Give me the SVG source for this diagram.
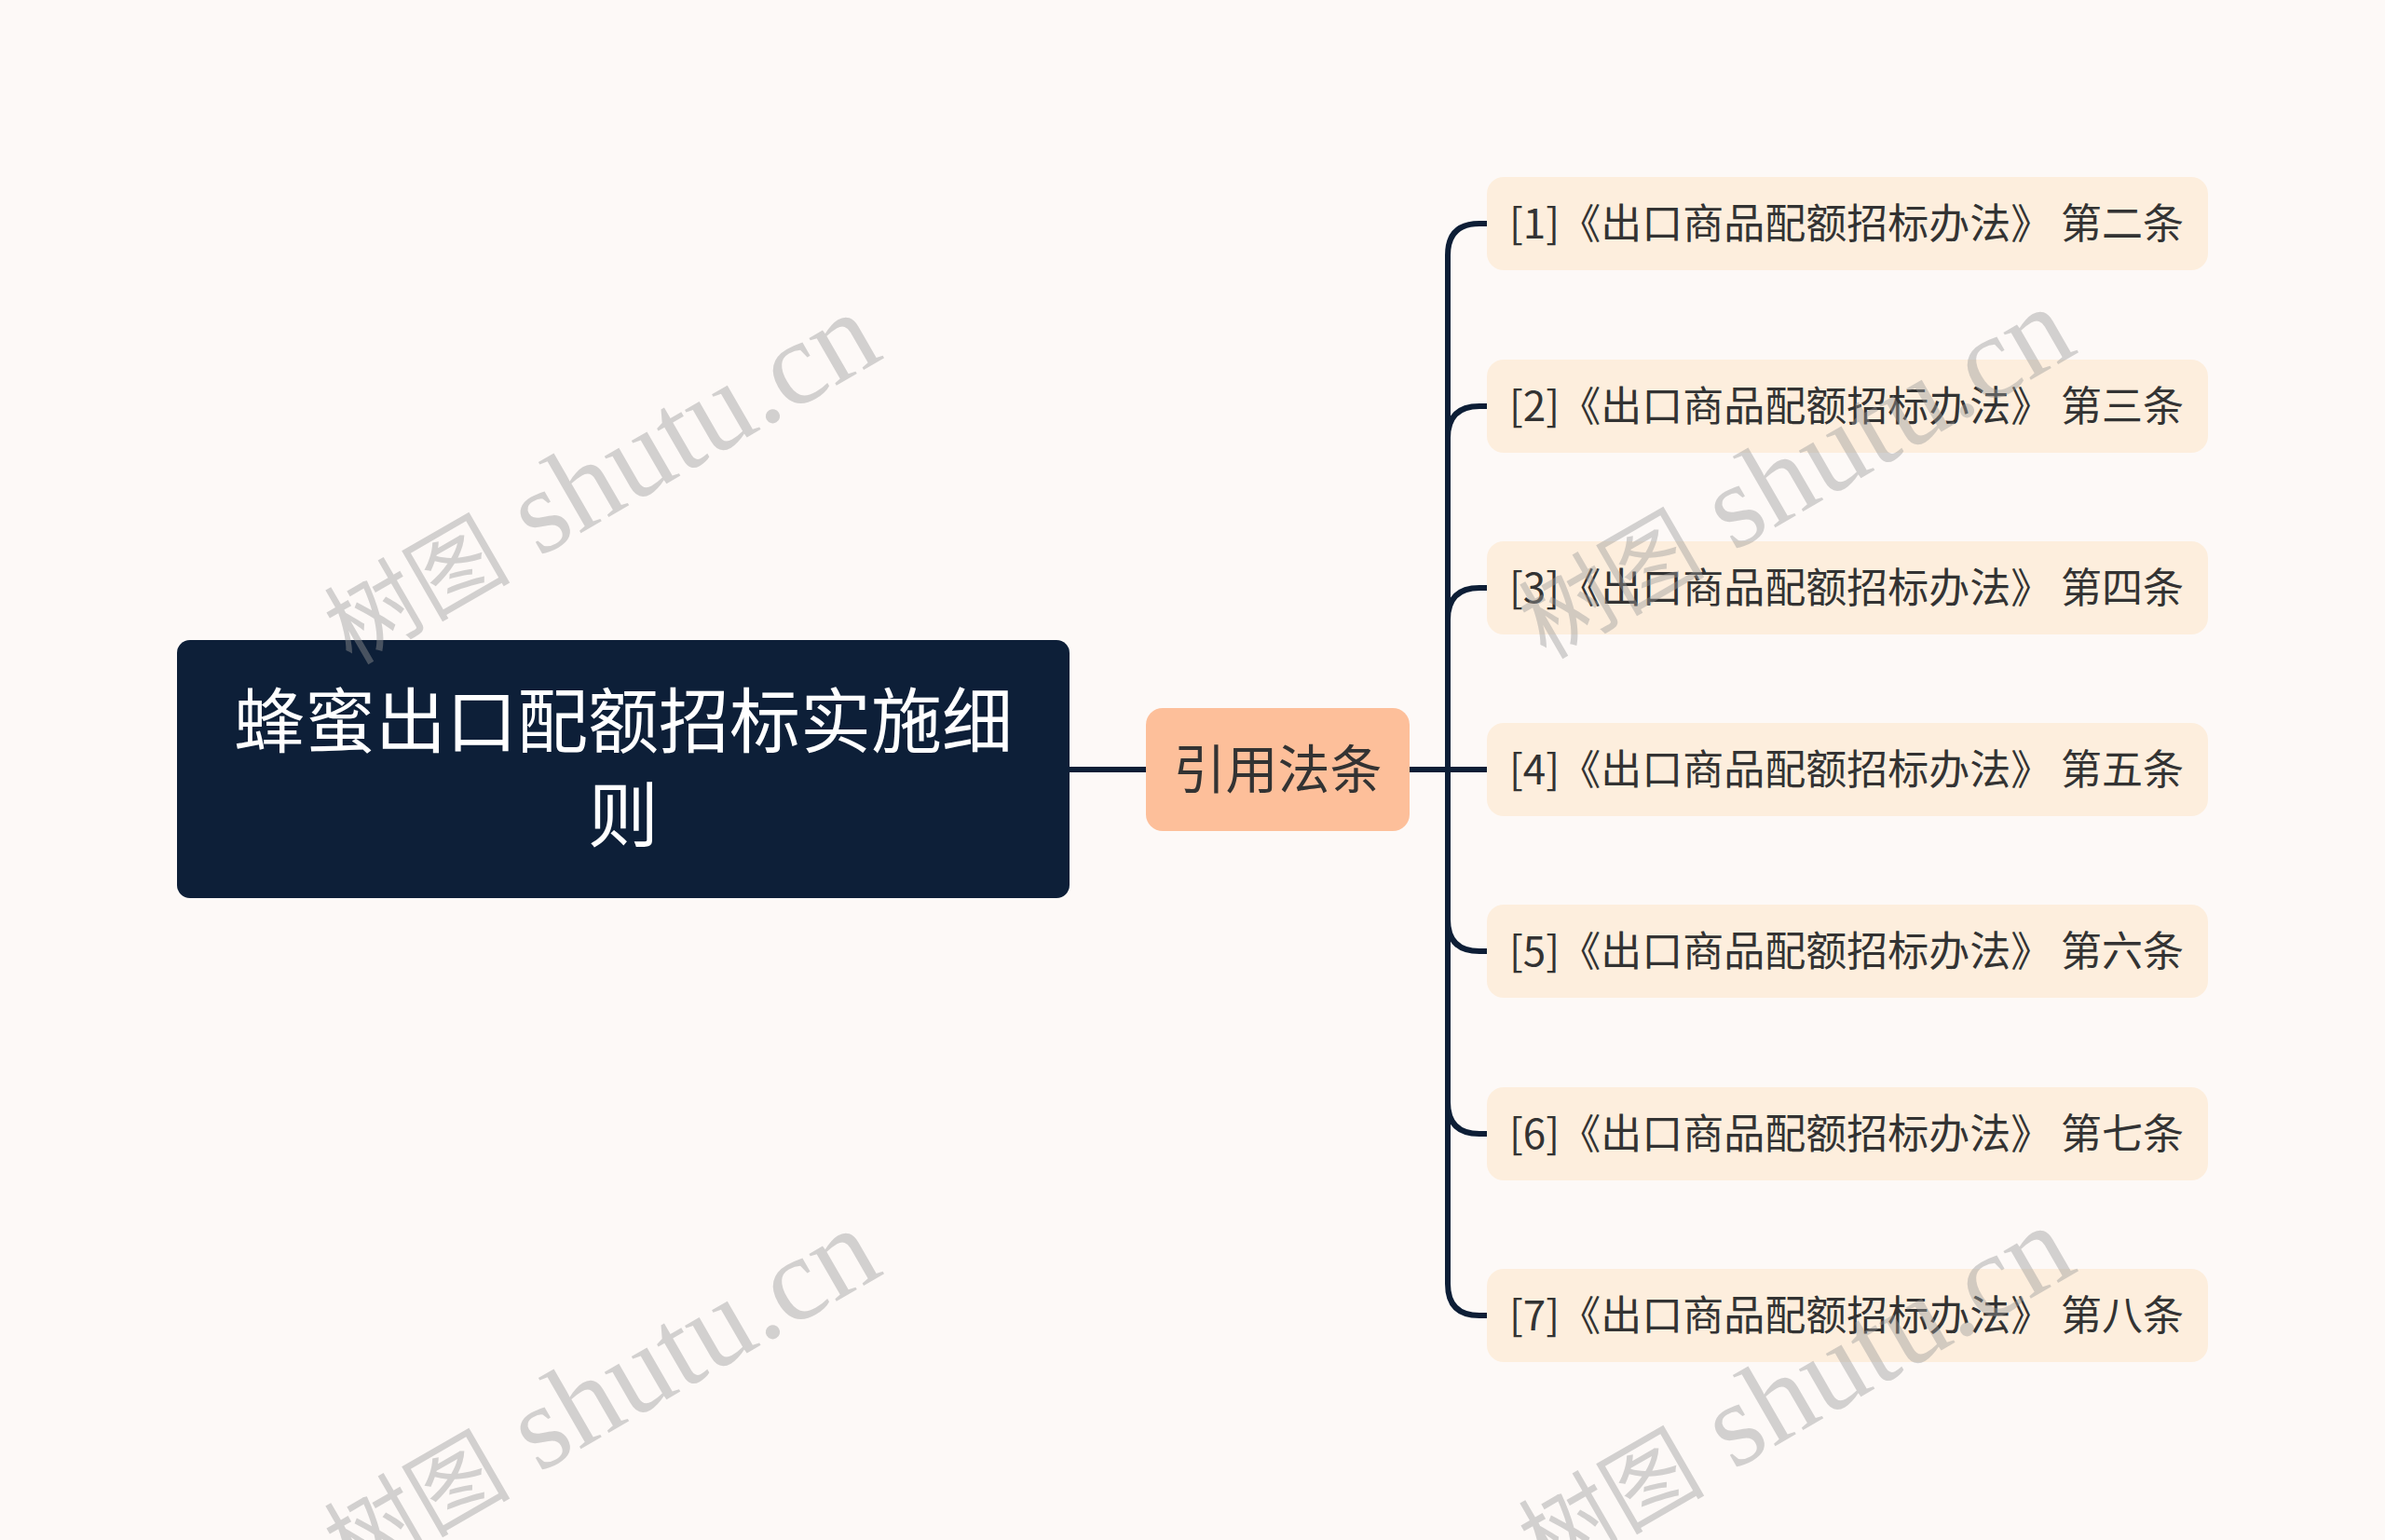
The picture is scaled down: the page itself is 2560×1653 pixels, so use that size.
<svg xmlns="http://www.w3.org/2000/svg" width="2560" height="1653" viewBox="0 0 2560 1653">
<style>
.cjk{font-family:"Noto Sans CJK SC","Noto Sans",sans-serif}
.root-t{fill:#ffffff;font-size:76px}
.mid-t{fill:#333333;font-size:56px}
.leaf-t{fill:#333333;font-size:44px}
.leaf{fill:#FDEEDD}
.conn{fill:none;stroke:#0D1E36;stroke-width:6;stroke-linecap:round}
.wm{font-family:"Liberation Serif","Noto Sans CJK SC",serif;font-size:128px;fill:#999999;opacity:0.42}
.wmc{font-size:100px}
</style>
<rect width="2560" height="1653" fill="#FDF9F7"/>
<g id="connectors">
<path class="conn" d="M1148,826 H1230"/>
<path class="conn" d="M1513,826 H1596"/>
<path class="conn" d="M1554,826 V274 Q1554,240 1588,240 H1596"/>
<path class="conn" d="M1554,826 V470 Q1554,436 1588,436 H1596"/>
<path class="conn" d="M1554,826 V665 Q1554,631 1588,631 H1596"/>
<path class="conn" d="M1554,826 V987 Q1554,1021 1588,1021 H1596"/>
<path class="conn" d="M1554,826 V1183 Q1554,1217 1588,1217 H1596"/>
<path class="conn" d="M1554,826 V1378 Q1554,1412 1588,1412 H1596"/>
</g>
<g id="root">
<rect x="190" y="687" width="958" height="277" rx="14" fill="#0D1F38"/>
<text class="cjk root-t" x="669" y="802" text-anchor="middle">蜂蜜出口配额招标实施细</text>
<text class="cjk root-t" x="669" y="903" text-anchor="middle">则</text>
</g>
<g id="mid">
<rect x="1230" y="760" width="283" height="132" rx="18" fill="#FDBF9A"/>
<text class="cjk mid-t" x="1371.5" y="846" text-anchor="middle">引用法条</text>
</g>
<g id="leaf1"><rect class="leaf" x="1596" y="190" width="774" height="100" rx="18"/><text class="cjk leaf-t" x="1620" y="256">[1]《出口商品配额招标办法》 第二条</text></g>
<g id="leaf2"><rect class="leaf" x="1596" y="386" width="774" height="100" rx="18"/><text class="cjk leaf-t" x="1620" y="452">[2]《出口商品配额招标办法》 第三条</text></g>
<g id="leaf3"><rect class="leaf" x="1596" y="581" width="774" height="100" rx="18"/><text class="cjk leaf-t" x="1620" y="647">[3]《出口商品配额招标办法》 第四条</text></g>
<g id="leaf4"><rect class="leaf" x="1596" y="776" width="774" height="100" rx="18"/><text class="cjk leaf-t" x="1620" y="842">[4]《出口商品配额招标办法》 第五条</text></g>
<g id="leaf5"><rect class="leaf" x="1596" y="971" width="774" height="100" rx="18"/><text class="cjk leaf-t" x="1620" y="1037">[5]《出口商品配额招标办法》 第六条</text></g>
<g id="leaf6"><rect class="leaf" x="1596" y="1167" width="774" height="100" rx="18"/><text class="cjk leaf-t" x="1620" y="1233">[6]《出口商品配额招标办法》 第七条</text></g>
<g id="leaf7"><rect class="leaf" x="1596" y="1362" width="774" height="100" rx="18"/><text class="cjk leaf-t" x="1620" y="1428">[7]《出口商品配额招标办法》 第八条</text></g>
<g id="watermarks">
<text class="wm" transform="translate(645,516) rotate(-30)" x="0" y="38" text-anchor="middle"><tspan class="wmc">树图</tspan> shutu.cn</text>
<text class="wm" transform="translate(645,1499) rotate(-30)" x="0" y="38" text-anchor="middle"><tspan class="wmc">树图</tspan> shutu.cn</text>
<text class="wm" transform="translate(1927,510) rotate(-30)" x="0" y="38" text-anchor="middle"><tspan class="wmc">树图</tspan> shutu.cn</text>
<text class="wm" transform="translate(1927,1496) rotate(-30)" x="0" y="38" text-anchor="middle"><tspan class="wmc">树图</tspan> shutu.cn</text>
</g>
</svg>
